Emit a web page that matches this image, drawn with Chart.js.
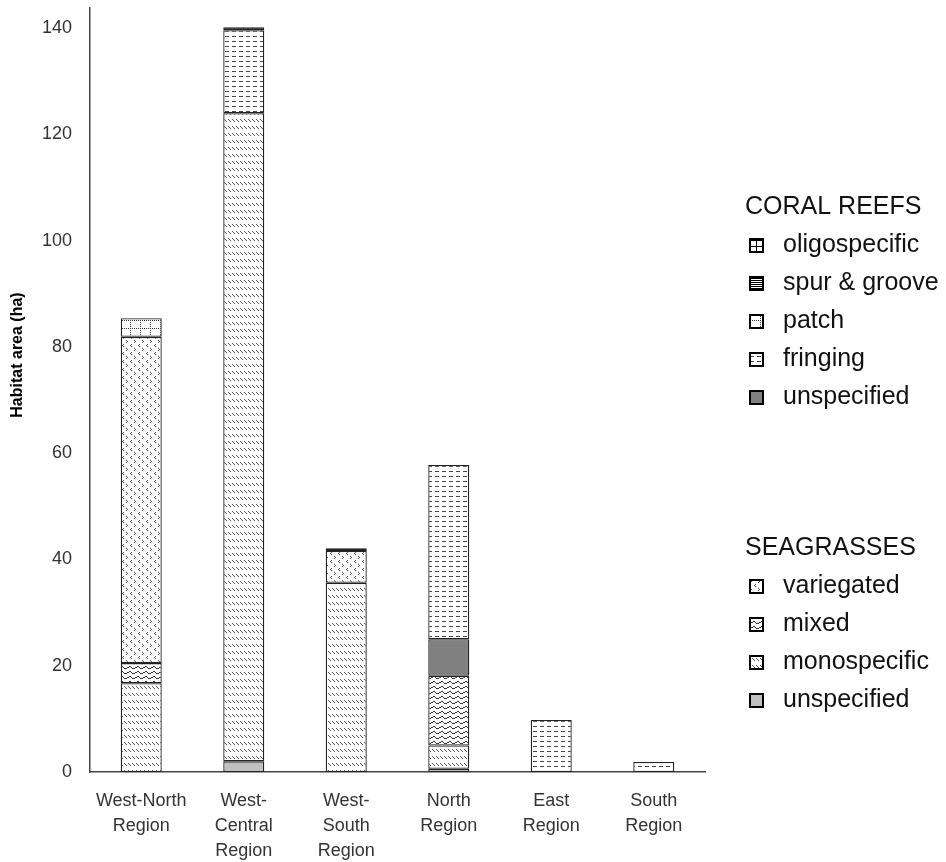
<!DOCTYPE html>
<html>
<head>
<meta charset="utf-8">
<script src="https://cdn.jsdelivr.net/npm/chart.js@4.4.1/dist/chart.umd.min.js"></script>
<style>
  html, body { margin: 0; padding: 0; background: #fff; }
  #wrap { width: 946px; height: 862px; position: relative; }
</style>
</head>
<body>
<div id="wrap"><canvas id="habitatChart" width="946" height="862"></canvas></div>
<script>
// regions along the x axis
const regions = [
  ["West-North", "Region"],
  ["West-", "Central", "Region"],
  ["West-", "South", "Region"],
  ["North", "Region"],
  ["East", "Region"],
  ["South", "Region"]
];

// habitat area (ha), stacked bottom-up
const seagrassUnspecified = [null, 2.0, null, 0.6, null, null];
const monospecific        = [16.7, 122.0, 35.6, 4.4, null, null];
const mixed               = [3.8, null, null, 13.1, null, null];
const variegated          = [61.4, null, 6.0, null, null, null];
const coralUnspecified    = [null, null, 0.5, 6.9, null, null];
const fringing            = [null, 15.6, null, 32.8, 9.8, 1.9];
const patch               = [3.5, null, null, null, null, null];
const spurGroove          = [null, 0.6, null, null, null, null];
const oligospecific       = [null, null, null, null, null, null];

const yTicks = [0, 20, 40, 60, 80, 100, 120, 140];

const FONT = "'Liberation Sans', Arial, sans-serif";

// little tiles for the hatch fills
function makePattern(w, h, draw) {
  const c = document.createElement("canvas");
  c.width = w; c.height = h;
  const g = c.getContext("2d");
  g.fillStyle = "#fff";
  g.fillRect(0, 0, w, h);
  draw(g);
  return g.createPattern(c, "repeat");
}
function px(g, pts, color) {
  g.fillStyle = color;
  pts.forEach(p => g.fillRect(p[0], p[1], 1, 1));
}

const fills = {
  oligo: makePattern(6, 6, g => {
    g.fillStyle = "#000";
    g.fillRect(0, 0, 6, 1);
    g.fillRect(0, 0, 1, 6);
  }),
  spur: makePattern(4, 2, g => {
    g.fillStyle = "#000";
    g.fillRect(0, 0, 4, 1);
  }),
  patch: makePattern(10, 8, g => {
    const pts = [];
    for (let x = 0; x < 10; x += 2) pts.push([x, 0]);
    for (let y = 2; y < 8; y += 2) pts.push([0, y]);
    px(g, pts, "#333");
  }),
  fringing: makePattern(7, 5, g => {
    g.fillStyle = "#444";
    g.fillRect(1, 1, 4, 1);
  }),
  coralUns: "#808080",
  variegated: makePattern(8, 8, g => {
    px(g, [[3, 0], [2, 1], [3, 2], [6, 4], [7, 5], [6, 6]], "#555");
  }),
  mixed: makePattern(8, 5, g => {
    px(g, [[0, 2], [1, 1], [2, 1], [3, 2], [4, 3], [5, 3], [6, 3], [7, 2]], "#333");
  }),
  mono: makePattern(4, 7, g => {
    px(g, [[0, 0], [1, 1], [2, 2]], "#555");
  }),
  seaUns: "#c0c0c0"
};

function ds(label, group, data, fill) {
  return {
    label: label,
    group: group,
    data: data,
    backgroundColor: fill,
    borderColor: "#222",
    borderWidth: 1.3,
    borderSkipped: false,
    barPercentage: 0.4,
    categoryPercentage: 1.0
  };
}

const datasets = [
  ds("unspecified", "sea", seagrassUnspecified, fills.seaUns),
  ds("monospecific", "sea", monospecific, fills.mono),
  ds("mixed", "sea", mixed, fills.mixed),
  ds("variegated", "sea", variegated, fills.variegated),
  ds("unspecified", "coral", coralUnspecified, fills.coralUns),
  ds("fringing", "coral", fringing, fills.fringing),
  ds("patch", "coral", patch, fills.patch),
  ds("spur & groove", "coral", spurGroove, fills.spur),
  ds("oligospecific", "coral", oligospecific, fills.oligo)
];

// legend order as in the figure (top to bottom)
const coralOrder = [8, 7, 6, 5, 4];
const seaOrder = [3, 2, 1, 0];

const groupLegend = {
  id: "groupLegend",
  afterDraw(chart) {
    const ctx = chart.ctx;
    ctx.save();
    ctx.textBaseline = "middle";
    ctx.font = "25px " + FONT;
    const drawGroup = (title, order, y0) => {
      ctx.fillStyle = "#111";
      ctx.fillText(title, 745, y0);
      order.forEach((i, k) => {
        const y = y0 + 38 + k * 38;
        const d = chart.data.datasets[i];
        ctx.fillStyle = d.backgroundColor;
        ctx.fillRect(750, y - 6, 13, 13);
        ctx.strokeStyle = "#000";
        ctx.lineWidth = 2;
        ctx.strokeRect(750, y - 6, 13, 13);
        ctx.fillStyle = "#111";
        ctx.fillText(d.label, 783, y);
      });
    };
    drawGroup("CORAL REEFS", coralOrder, 207);
    drawGroup("SEAGRASSES", seaOrder, 548);

    // y axis title
    ctx.translate(18, 355);
    ctx.rotate(-Math.PI / 2);
    ctx.textAlign = "center";
    ctx.font = "bold 16px " + FONT;
    ctx.fillStyle = "#000";
    ctx.fillText("Habitat area (ha)", 0, 0);
    ctx.restore();
  }
};

new Chart(document.getElementById("habitatChart"), {
  type: "bar",
  data: { labels: regions, datasets: datasets },
  options: {
    responsive: false,
    animation: false,
    layout: { padding: { top: 8, right: 241, bottom: 0, left: 0 } },
    plugins: { legend: { display: false }, tooltip: { enabled: false } },
    scales: {
      x: {
        stacked: true,
        grid: { display: false, drawTicks: false },
        border: { display: true, color: "#444", width: 1.5 },
        ticks: {
          color: "#333",
          padding: 16,
          maxRotation: 0,
          autoSkip: false,
          font: { family: FONT, size: 18, lineHeight: 1.4 }
        },
        afterFit(scale) {
          scale.height = 90;
          scale.paddingLeft = 0;
          scale.paddingRight = 0;
        }
      },
      y: {
        stacked: true,
        min: 0,
        max: 143.8,
        grid: { display: false, drawTicks: false },
        border: { display: true, color: "#444", width: 1.5 },
        afterBuildTicks(scale) {
          scale.ticks = yTicks.map(v => ({ value: v }));
        },
        ticks: {
          color: "#333",
          padding: 18,
          font: { family: FONT, size: 18 }
        },
        afterFit(scale) {
          scale.width = 90;
          scale.paddingTop = 0;
          scale.paddingBottom = 0;
        }
      }
    }
  },
  plugins: [groupLegend]
});
</script>
</body>
</html>
